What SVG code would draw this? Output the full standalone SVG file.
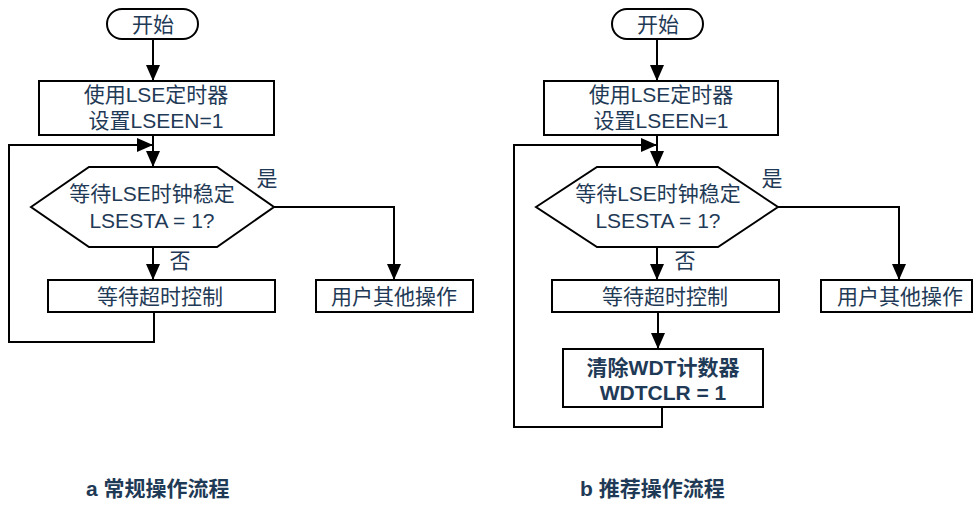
<svg xmlns="http://www.w3.org/2000/svg" width="973" height="505" viewBox="0 0 973 505">
<defs>
<marker id="ah" markerUnits="userSpaceOnUse" markerWidth="16" markerHeight="14" refX="16" refY="7" orient="auto">
<path d="M0,0 L16,7 L0,14 z" fill="#000"/>
</marker>
<style>
.n{fill:#fff;stroke:#000;stroke-width:2}
.t{font-family:"Liberation Sans","Noto Sans CJK SC",sans-serif;font-size:21px;fill:#1F3A56;text-anchor:middle;dominant-baseline:central}
.b{font-weight:bold}
.c{font-family:"Liberation Sans","Noto Sans CJK SC",sans-serif;font-size:21px;font-weight:bold;fill:#1F3A56}
.e{fill:none;stroke:#000;stroke-width:2;marker-end:url(#ah)}
</style>
</defs>
<rect width="973" height="505" fill="#fff"/>
<g id="connectors">
<path class="e" d="M153,39 L153,81"/>
<path class="e" d="M153,135 L153,167"/>
<path class="e" d="M154,312 L154,342 L9,342 L9,145 L153,145"/>
<path class="e" d="M274,207 L394,207 L394,280"/>
<path class="e" d="M153,247 L153,280"/>
<path class="e" d="M657,39 L657,81"/>
<path class="e" d="M657,135 L657,167"/>
<path class="e" d="M662,407 L662,427 L514,427 L514,145 L657,145"/>
<path class="e" d="M778,207 L899,207 L899,280"/>
<path class="e" d="M657,247 L657,280"/>
<path class="e" d="M658,312 L658,349"/>
</g>
<g id="a-start"><rect class="n" x="107" y="9" width="91" height="30" rx="15"/><text class="t" x="153" y="24">开始</text></g>
<g id="a-init"><rect class="n" x="39" y="81" width="235" height="54"/><text class="t" x="156" y="94">使用LSE定时器</text><text class="t" x="156" y="120">设置LSEEN=1</text></g>
<g id="a-check"><polygon class="n" points="31,207 89,167 217,167 274,207 217,247 89,247"/><text class="t" x="152" y="193">等待LSE时钟稳定</text><text class="t" x="152" y="220">LSESTA = 1?</text></g>
<g id="a-wait"><rect class="n" x="48" y="280" width="227" height="32"/><text class="t" x="160" y="296">等待超时控制</text></g>
<g id="a-user"><rect class="n" x="316" y="280" width="157" height="32"/><text class="t" x="394" y="296">用户其他操作</text></g>
<text class="t" x="267" y="178">是</text>
<text class="t" x="180" y="260">否</text>
<g id="b-start"><rect class="n" x="612" y="9" width="91" height="30" rx="15"/><text class="t" x="658" y="24">开始</text></g>
<g id="b-init"><rect class="n" x="544" y="81" width="234" height="54"/><text class="t" x="661" y="94">使用LSE定时器</text><text class="t" x="661" y="120">设置LSEEN=1</text></g>
<g id="b-check"><polygon class="n" points="536,207 597,167 718,167 778,207 718,247 597,247"/><text class="t" x="658" y="193">等待LSE时钟稳定</text><text class="t" x="658" y="220">LSESTA = 1?</text></g>
<g id="b-wait"><rect class="n" x="552" y="280" width="227" height="32"/><text class="t" x="665" y="296">等待超时控制</text></g>
<g id="b-clr"><rect class="n" x="563" y="349" width="200" height="58"/><text class="t b" x="663" y="367">清除WDT计数器</text><text class="t b" x="663" y="392">WDTCLR = 1</text></g>
<g id="b-user"><rect class="n" x="821" y="280" width="151" height="32"/><text class="t" x="900" y="296">用户其他操作</text></g>
<text class="t" x="772" y="178">是</text>
<text class="t" x="685" y="260">否</text>
<text class="c" x="86" y="496">a 常规操作流程</text>
<text class="c" x="580" y="496">b 推荐操作流程</text>
</svg>
